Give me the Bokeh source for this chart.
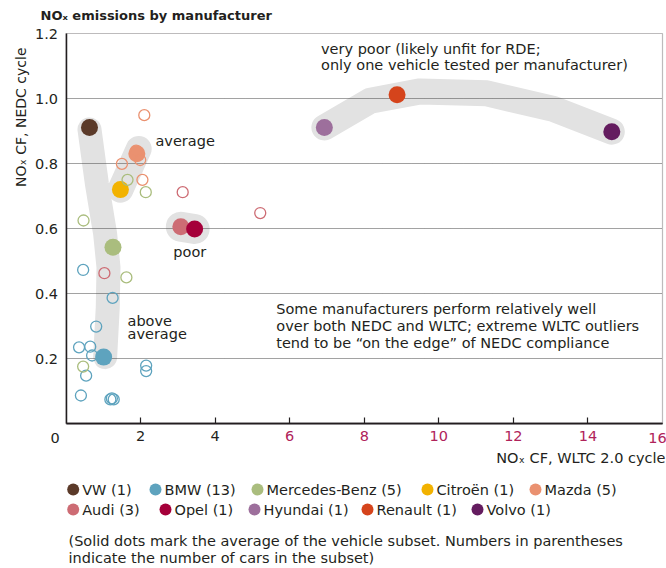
from math import pi
from bokeh.plotting import figure
from bokeh.models import (Range1d, FixedTicker, PrintfTickFormatter, LinearAxis, Grid,
                          BoxAnnotation)
from bokeh.core.properties import value
from bokeh.embed import file_html
from bokeh.resources import INLINE

# ---------------- data ----------------
x_ticks_dark = [2, 4]
x_ticks_red = [6, 8, 10, 12, 14, 16]
y_ticks = [0.2, 0.4, 0.6, 0.8, 1.0, 1.2]
y_grid = [0.2, 0.4, 0.6, 0.8, 1.0]

manufacturers = ["VW", "BMW", "Mercedes-Benz", "Citroën", "Mazda",
                 "Audi", "Opel", "Hyundai", "Renault", "Volvo"]
car_counts = [1, 13, 5, 1, 5, 3, 1, 1, 1, 1]
colors = ["#5b3a29", "#5ea3be", "#aabd7e", "#f2b200", "#ea9170",
          "#cd6c74", "#a5003a", "#9d6f9c", "#d5441c", "#641c5f"]

# subset averages (solid dots)
avg_wltc = [0.63, 1.01, 1.26, 1.46, 1.90, 3.08, 3.45, 6.93, 8.88, 14.64]
avg_nedc = [0.911, 0.205, 0.543, 0.720, 0.830, 0.606, 0.599, 0.911, 1.012, 0.898]

# individual vehicles (open circles)
bmw_wltc = [0.46, 1.25, 0.81, 0.35, 0.65, 0.70, 0.54, 0.40, 1.19, 1.28, 2.15, 2.15, 1.23]
bmw_nedc = [0.473, 0.387, 0.299, 0.235, 0.237, 0.210, 0.148, 0.087, 0.075, 0.075, 0.179, 0.162, 0.078]
merc_wltc = [1.65, 2.14, 0.47, 1.62, 0.46]
merc_nedc = [0.750, 0.712, 0.625, 0.450, 0.176]
mazda_wltc = [2.10, 1.50, 1.99, 2.05, 1.88]
mazda_nedc = [0.949, 0.799, 0.811, 0.750, 0.840]
audi_wltc = [3.13, 1.03, 5.21]
audi_nedc = [0.712, 0.463, 0.648]

# highlighted groups (grey bands)
band_above_x = [0.63, 0.83, 1.05, 1.14, 1.12, 1.05]
band_above_y = [0.905, 0.737, 0.584, 0.481, 0.358, 0.205]
band_avg_x = [1.46, 1.95]
band_avg_y = [0.720, 0.845]
band_poor_x = [3.08, 3.45]
band_poor_y = [0.606, 0.599]
band_vpoor_x = [6.93, 8.16, 9.50, 11.29, 13.07, 14.64]
band_vpoor_y = [0.911, 0.993, 1.022, 1.016, 0.968, 0.898]

# ---------------- geometry / styles ----------------
W, H = 666, 568
FL, FR, FT, FB = 65.5, 662, 33, 423.3      # plot box inside the canvas (px)
XMAX, YMAX = 16, 1.2
KX = (FR - FL) / XMAX
KY = (FB - FT) / YMAX

def X(px):
    return (px - FL) / KX

def Y(py):
    return (FB - py) / KY

FONT = "DejaVu Sans"
FS = "14.5px"
TXT = "#231f20"
BAND = "#e2e2e2"
CRIMSON = "#b0235a"

p = figure(width=W, height=H, x_range=Range1d(X(0), X(W)), y_range=Range1d(Y(H), Y(0)),
           output_backend="svg", toolbar_location=None, min_border=0,
           x_axis_location=None, y_axis_location=None)
p.outline_line_color = None
p.background_fill_color = "white"
p.border_fill_color = "white"
p.grid.visible = False

def x_axis(ticks, color):
    ax = LinearAxis(fixed_location=0, bounds=(0, XMAX), ticker=FixedTicker(ticks=ticks))
    ax.major_tick_in = 6
    ax.major_tick_out = 0
    ax.minor_tick_line_color = None
    ax.axis_line_width = 1.5
    ax.axis_line_color = TXT
    ax.major_tick_line_color = TXT
    ax.major_tick_line_width = 1.2
    ax.major_label_standoff = 7
    ax.major_label_text_font = FONT
    ax.major_label_text_font_size = FS
    ax.major_label_text_color = color
    p.add_layout(ax, "below")

# the last tick label sits at the box corner and is nudged inwards separately
x_axis(x_ticks_dark, TXT)
x_axis(x_ticks_red[:-1], CRIMSON)

ya = LinearAxis(fixed_location=0, bounds=(0, YMAX), ticker=FixedTicker(ticks=y_ticks),
                formatter=PrintfTickFormatter(format="%.1f"))
ya.major_tick_in = 0
ya.major_tick_out = 0
ya.minor_tick_line_color = None
ya.axis_line_width = 1.5
ya.axis_line_color = TXT
ya.major_label_standoff = 8
ya.major_label_text_font = FONT
ya.major_label_text_font_size = FS
ya.major_label_text_color = TXT
p.add_layout(ya, "left")

grid_kw = dict(dimension=1, ticker=FixedTicker(ticks=y_grid), grid_line_color="#444444",
               grid_line_dash="1 1", grid_line_width=1)
if "cross_bounds" in Grid.properties():
    grid_kw["cross_bounds"] = (0, XMAX)
p.add_layout(Grid(**grid_kw))

p.add_layout(BoxAnnotation(left=0, right=XMAX, bottom=0, top=YMAX, fill_color=None,
                           fill_alpha=0, line_color=TXT, line_width=1.2))

# bands
for bx, by, w in [(band_above_x, band_above_y, 24), (band_avg_x, band_avg_y, 26),
                  (band_poor_x, band_poor_y, 30), (band_vpoor_x, band_vpoor_y, 26)]:
    p.line(bx, by, line_width=w, line_color=BAND, line_cap="round", line_join="round",
           level="image")

# solid average dots
p.scatter(avg_wltc, avg_nedc, size=17, fill_color=colors, line_color=None, marker="circle")

# open circles
for xs, ys, c in [(bmw_wltc, bmw_nedc, colors[1]), (merc_wltc, merc_nedc, colors[2]),
                  (mazda_wltc, mazda_nedc, colors[4]), (audi_wltc, audi_nedc, colors[5])]:
    p.scatter(xs, ys, size=11, fill_color=None, line_color=c, line_width=1.3, marker="circle")

def txt(xs, ys, texts, **kw):
    opts = dict(text_font=value(FONT), text_font_size=FS, text_color=TXT,
                text_baseline="middle", text_align="left")
    opts.update(kw)
    p.text(xs, ys, text=texts, **opts)

# in-plot annotations (data coordinates)
txt([6.84, 6.84], [1.153, 1.104],
    ["very poor (likely unfit for RDE;", "only one vehicle tested per manufacturer)"])
txt([2.40], [0.868], ["average"])
txt([2.88], [0.529], ["poor"])
txt([1.65, 1.65], [0.317, 0.276], ["above", "average"])
txt([5.64] * 3, [0.353, 0.302, 0.248],
    ["Some manufacturers perform relatively well",
     "over both NEDC and WLTC; extreme WLTC outliers",
     "tend to be \u201con the edge\u201d of NEDC compliance"])

# corner tick labels, axis titles, chart title
txt([0], [Y(437.7)], ["0"], text_align="center", x_offset=-11)
txt([x_ticks_red[-1]], [Y(437.7)], [str(x_ticks_red[-1])], text_align="center",
    text_color=CRIMSON, x_offset=-5)
txt([X(665)], [Y(457.3)], ["NO\u2093 CF, WLTC 2.0 cycle"], text_align="right")
txt([X(20)], [Y(47)], ["NO\u2093 CF, NEDC cycle"], text_align="right", angle=pi / 2,
    text_font_size="14px")
txt([X(40)], [Y(15)], ["NO\u2093 emissions by manufacturer"], text_font_style="bold",
    text_font_size="13px")

# ---------------- legend + footnote ----------------
legend_labels = [f"{m} ({n})" for m, n in zip(manufacturers, car_counts)]
leg_px = [72.7, 155, 257, 427, 535, 72.7, 165, 254, 367, 477]
leg_py = [489] * 5 + [509] * 5
p.scatter([X(v) for v in leg_px], [Y(v) for v in leg_py], size=12, fill_color=colors,
          line_color=None, marker="circle")
txt([X(v + 9) for v in leg_px], [Y(v) for v in leg_py], legend_labels)

foot = ["(Solid dots mark the average of the vehicle subset. Numbers in parentheses",
        "indicate the number of cars in the subset)"]
txt([X(68), X(68)], [Y(540), Y(557)], foot)

open("out.html", "w").write(file_html(p, INLINE))
